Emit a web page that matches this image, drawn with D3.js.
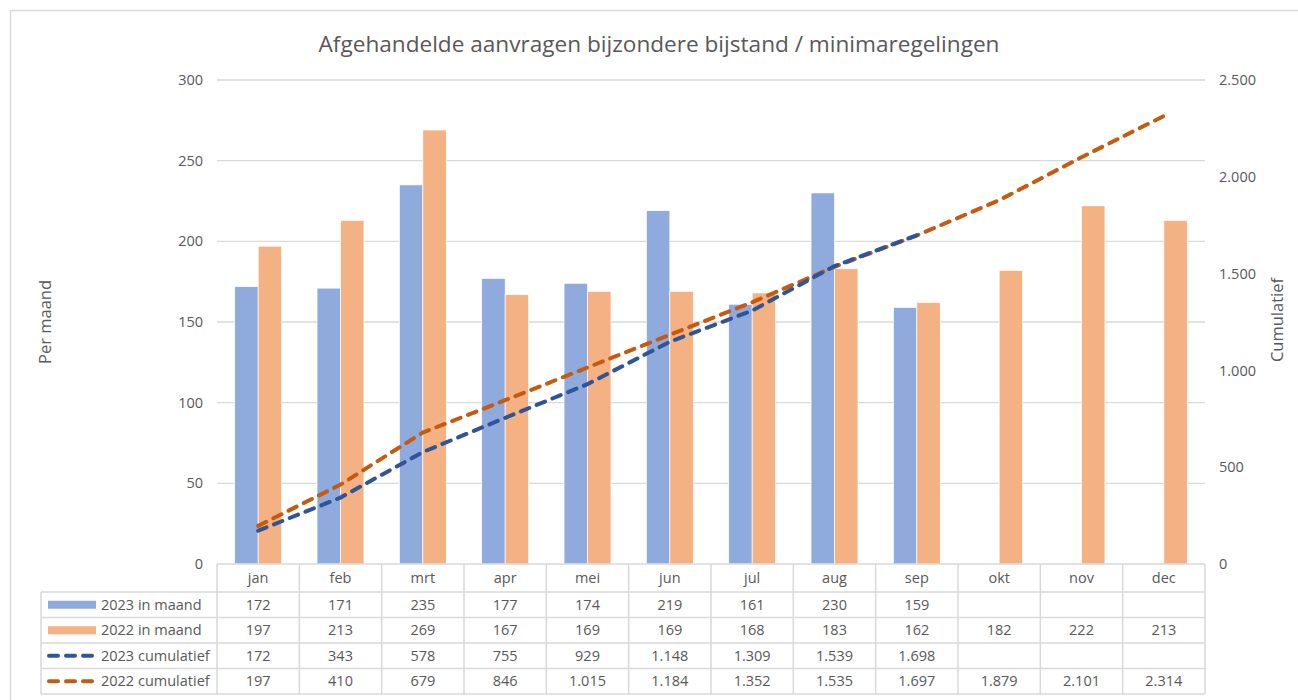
<!DOCTYPE html>
<html>
<head>
<meta charset="utf-8">
<script src="https://cdn.jsdelivr.net/npm/d3@7"></script>
<style>
  body { margin: 0; background: #fff; }
  svg { font-family: "Open Sans", sans-serif; }
</style>
</head>
<body>
<svg width="1298" height="700"></svg>
<script>
// Data
const months = ["jan", "feb", "mrt", "apr", "mei", "jun", "jul", "aug", "sep", "okt", "nov", "dec"];
const maand2023 = [172, 171, 235, 177, 174, 219, 161, 230, 159, null, null, null];
const maand2022 = [197, 213, 269, 167, 169, 169, 168, 183, 162, 182, 222, 213];
const cum2023 = [172, 343, 578, 755, 929, 1148, 1309, 1539, 1698, null, null, null];
const cum2022 = [197, 410, 679, 846, 1015, 1184, 1352, 1535, 1697, 1879, 2101, 2314];
const leftTicks = [0, 50, 100, 150, 200, 250, 300];
const rightTicks = [0, 500, 1000, 1500, 2000, 2500];

const svg = d3.select("svg");
const textColor = "#595959";
const gridColor = "#d9d9d9";

const nl = d3.formatLocale({ decimal: ",", thousands: ".", grouping: [3], currency: ["€", ""] });
const fmt = nl.format(",d");

// chart frame
svg.append("path")
  .attr("d", "M10.5,700 V10.5 H1298")
  .attr("fill", "none")
  .attr("stroke", gridColor)
  .attr("stroke-width", 1.5);

// Scales
const x = d3.scaleBand().domain(months).range([217, 1205]).padding(0);
const y = d3.scaleLinear().domain([0, 300]).range([564, 80]);
const y2 = d3.scaleLinear().domain([0, 2500]).range([564, 80]);
const bw = x.bandwidth();
const x1 = d3.scaleBand().domain(["2023", "2022"]).range([bw * 0.215, bw * 0.785]);

// gridlines
svg.append("g")
  .selectAll("line")
  .data(leftTicks.slice(1))
  .enter()
  .append("line")
  .attr("x1", 217).attr("x2", 1205)
  .attr("y1", (d) => y(d)).attr("y2", (d) => y(d))
  .attr("stroke", gridColor)
  .attr("stroke-width", 1.3);

// left axis
const leftAxis = svg.append("g")
  .attr("transform", "translate(203,0)")
  .call(d3.axisLeft(y).tickValues(leftTicks).tickSize(0).tickPadding(0));
leftAxis.select(".domain").remove();
leftAxis.selectAll("text")
  .attr("fill", textColor)
  .attr("font-size", 14.5)
  .attr("font-family", "Open Sans");

// right axis
const rightAxis = svg.append("g")
  .attr("transform", "translate(1219,0)")
  .call(d3.axisRight(y2).tickValues(rightTicks).tickSize(0).tickPadding(0).tickFormat(fmt));
rightAxis.select(".domain").remove();
rightAxis.selectAll("text")
  .attr("fill", textColor)
  .attr("font-size", 14.5)
  .attr("font-family", "Open Sans");

// bars
const barColors = { "2023": "#8faadc", "2022": "#f4b183" };
const barData = [];
months.forEach((m, i) => {
  if (maand2023[i] != null) barData.push({ m: m, s: "2023", v: maand2023[i] });
  if (maand2022[i] != null) barData.push({ m: m, s: "2022", v: maand2022[i] });
});
svg.append("g")
  .selectAll("rect")
  .data(barData)
  .enter()
  .append("rect")
  .attr("x", (d) => x(d.m) + x1(d.s))
  .attr("width", x1.bandwidth())
  .attr("y", (d) => y(d.v))
  .attr("height", (d) => y(0) - y(d.v))
  .attr("fill", (d) => barColors[d.s])
  .attr("stroke", "#fff")
  .attr("stroke-width", 0.7);

// cumulative lines
const line = d3.line()
  .defined((d) => d.v != null)
  .x((d) => x(d.m) + bw / 2)
  .y((d) => y2(d.v));
const lineSeries = [
  { name: "2022 cumulatief", values: cum2022, color: "#c55a11" },
  { name: "2023 cumulatief", values: cum2023, color: "#2f5597" },
];
lineSeries.forEach((s) => {
  svg.append("path")
    .datum(months.map((m, i) => ({ m: m, v: s.values[i] })))
    .attr("d", line)
    .attr("fill", "none")
    .attr("stroke", s.color)
    .attr("stroke-width", 4)
    .attr("stroke-linecap", "round")
    .attr("stroke-dasharray", "9,8");
});

// title
svg.append("text")
  .attr("x", 659).attr("y", 52)
  .attr("text-anchor", "middle")
  .attr("fill", textColor)
  .attr("font-size", 22.6)
  .text("Afgehandelde aanvragen bijzondere bijstand / minimaregelingen");

// axis titles
svg.append("text")
  .attr("transform", "translate(51,322) rotate(-90)")
  .attr("text-anchor", "middle")
  .attr("fill", textColor)
  .attr("font-size", 16.5)
  .text("Per maand");
svg.append("text")
  .attr("transform", "translate(1283,320) rotate(-90)")
  .attr("text-anchor", "middle")
  .attr("fill", textColor)
  .attr("font-size", 16.5)
  .text("Cumulatief");

// data table
const tableTop = 564;
const headerH = 28;
const rowH = 25.5;
const legendLeft = 41;
const tableRows = [
  { name: "2023 in maand", values: maand2023, color: "#8faadc", kind: "bar", fmt: (v) => v },
  { name: "2022 in maand", values: maand2022, color: "#f4b183", kind: "bar", fmt: (v) => v },
  { name: "2023 cumulatief", values: cum2023, color: "#2f5597", kind: "line", fmt: fmt },
  { name: "2022 cumulatief", values: cum2022, color: "#c55a11", kind: "line", fmt: fmt },
];
const table = svg.append("g");
const rowsBottom = tableTop + headerH + rowH * tableRows.length;

// horizontal lines
table.append("line")
  .attr("x1", 217).attr("x2", 1205)
  .attr("y1", tableTop).attr("y2", tableTop)
  .attr("stroke", gridColor).attr("stroke-width", 1.5);
table.selectAll(".hline")
  .data(d3.range(tableRows.length + 1))
  .enter()
  .append("line")
  .attr("x1", legendLeft).attr("x2", 1205)
  .attr("y1", (i) => tableTop + headerH + i * rowH)
  .attr("y2", (i) => tableTop + headerH + i * rowH)
  .attr("stroke", gridColor).attr("stroke-width", 1.5);
// vertical lines
table.selectAll(".vline")
  .data(months.map((m) => x(m)).concat([1205]))
  .enter()
  .append("line")
  .attr("x1", (d) => d).attr("x2", (d) => d)
  .attr("y1", tableTop).attr("y2", rowsBottom)
  .attr("stroke", gridColor).attr("stroke-width", 1.5);
table.append("line")
  .attr("x1", legendLeft).attr("x2", legendLeft)
  .attr("y1", tableTop + headerH).attr("y2", rowsBottom)
  .attr("stroke", gridColor).attr("stroke-width", 1.5);

// header labels
table.selectAll(".hdr")
  .data(months)
  .enter()
  .append("text")
  .attr("x", (d) => x(d) + bw / 2)
  .attr("y", tableTop + headerH / 2 + 5)
  .attr("text-anchor", "middle")
  .attr("fill", textColor)
  .attr("font-size", 14.5)
  .text((d) => d);

tableRows.forEach((r, ri) => {
  const cy = tableTop + headerH + ri * rowH + rowH / 2;
  if (r.kind === "bar") {
    table.append("rect")
      .attr("x", 48).attr("y", cy - 4)
      .attr("width", 48).attr("height", 8)
      .attr("fill", r.color);
  } else {
    table.append("line")
      .attr("x1", 49).attr("x2", 95)
      .attr("y1", cy).attr("y2", cy)
      .attr("stroke", r.color)
      .attr("stroke-width", 4)
      .attr("stroke-linecap", "round")
      .attr("stroke-dasharray", "9,8");
  }
  table.append("text")
    .attr("x", 101).attr("y", cy + 5)
    .attr("fill", textColor)
    .attr("font-size", 14.5)
    .text(r.name);
  table.selectAll(".cell" + ri)
    .data(months.map((m, i) => ({ m: m, v: r.values[i] })).filter((d) => d.v != null))
    .enter()
    .append("text")
    .attr("x", (d) => x(d.m) + bw / 2)
    .attr("y", cy + 5)
    .attr("text-anchor", "middle")
    .attr("fill", textColor)
    .attr("font-size", 14.5)
    .text((d) => r.fmt(d.v));
});
</script>
</body>
</html>
